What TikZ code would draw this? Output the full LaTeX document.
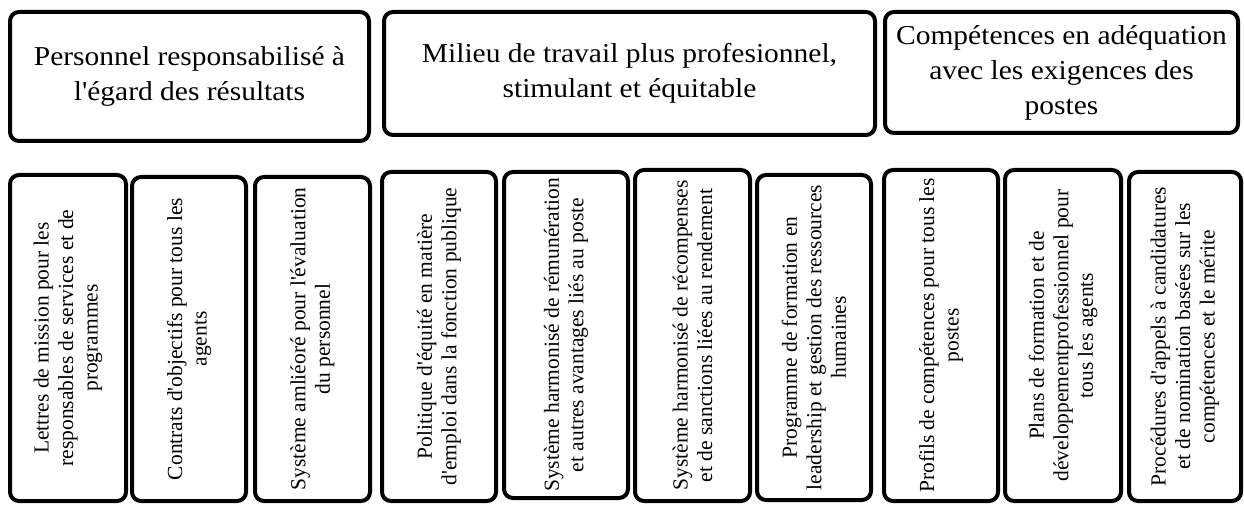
\documentclass[tikz,border=0pt]{standalone}
\usepackage{fontspec}
\setmainfont{Liberation Serif}[Ligatures=TeXOff]
\newfontfamily\widefont{Liberation Serif}[Ligatures=TeXOff,FakeStretch=1.08]

\begin{document}
\begin{tikzpicture}[x=1pt,y=-1pt,
  topbox/.style={draw,line width=4pt,rounded corners=9pt,align=center,inner sep=0pt,font=\widefont\fontsize{27.3}{35}\selectfont},
  subbox/.style={draw,line width=4pt,rounded corners=9pt,align=center,inner sep=0pt,rotate=90,font=\fontsize{21.5}{24.5}\selectfont}]
  \useasboundingbox (0,0) rectangle (1244,505);
  \node[topbox,minimum width=359pt,minimum height=129pt] (resultats) at (189.5,76.5) {Personnel responsabilisé à\\l'égard des résultats};
  \node[topbox,minimum width=491pt,minimum height=123pt] (milieu) at (629.5,73.5) {Milieu de travail plus profesionnel,\\stimulant et équitable};
  \node[topbox,minimum width=353pt,minimum height=121pt] (competences) at (1061.5,72.5) {Compétences en adéquation\\avec les exigences des\\postes};
  \node[subbox,minimum width=326pt,minimum height=116pt] (lettres) at (68,338) {Lettres de mission pour les\\responsables de services et de\\programmes};
  \node[subbox,minimum width=324pt,minimum height=114pt] (contrats) at (189,339) {Contrats d'objectifs pour tous les\\agents};
  \node[subbox,minimum width=324pt,minimum height=115pt] (evaluation) at (312.5,339) {Système amliéoré pour l'évaluation\\du personnel};
  \node[subbox,minimum width=329pt,minimum height=114pt] (equite) at (439,336.5) {Politique d'équité en matière\\d'emploi dans la fonction publique};
  \node[subbox,minimum width=326pt,minimum height=124pt] (remuneration) at (566,335) {Système harmonisé de rémunération\\et autres avantages liés au poste};
  \node[subbox,minimum width=331pt,minimum height=115pt] (recompenses) at (692.5,335.5) {Système harmonisé de récompenses\\et de sanctions liées au rendement};
  \node[subbox,minimum width=325pt,minimum height=114pt] (leadership) at (814,337.5) {Programme de formation en\\leadership et gestion des ressources\\humaines};
  \node[subbox,minimum width=331pt,minimum height=114pt] (profils) at (941,335.5) {Profils de compétences pour tous les\\postes};
  \node[subbox,minimum width=331pt,minimum height=116pt] (plans) at (1063,335.5) {Plans de formation et de\\développementprofessionnel pour\\tous les agents};
  \node[subbox,minimum width=329pt,minimum height=112pt] (procedures) at (1185,336.5) {Procédures d'appels à candidatures\\et de nomination basées sur les\\compétences et le mérite};
\end{tikzpicture}
\end{document}
